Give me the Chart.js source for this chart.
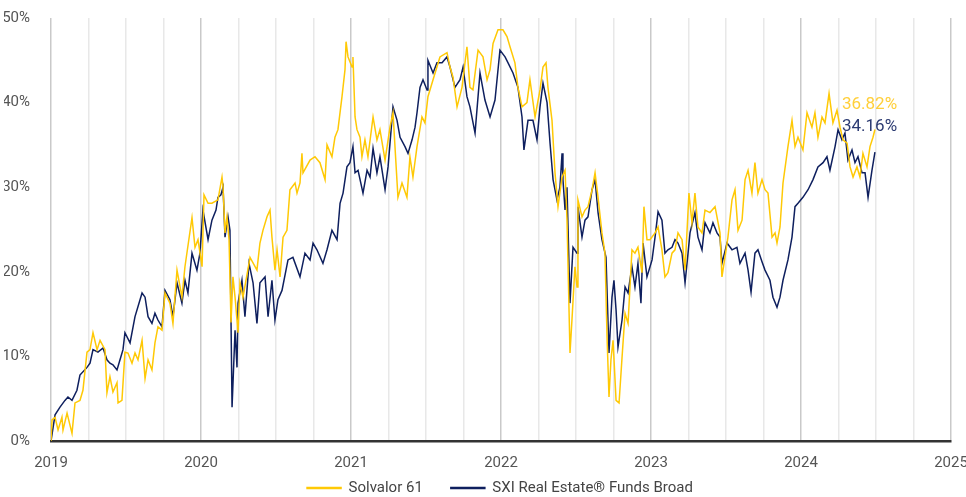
<!DOCTYPE html>
<html>
<head>
<meta charset="utf-8">
<script src="https://cdn.jsdelivr.net/npm/chart.js@4.4.1/dist/chart.umd.min.js"></script>
<style>
  html, body { margin: 0; padding: 0; background: #fff; }
  #wrap { width: 966px; height: 497px; }
</style>
</head>
<body>
<div id="wrap"><canvas id="chart"></canvas></div>
<script>
// series names
const seriesNames = ['Solvalor 61', 'SXI Real Estate\u00AE Funds Broad'];

// year ticks shown on the x axis
const yearTicks = [2019, 2020, 2021, 2022, 2023, 2024, 2025];

// Solvalor 61 - decimal years and cumulative performance in %
const solvalorDates = [
  2019.000, 2019.007, 2019.027, 2019.047, 2019.073, 2019.080, 2019.107, 2019.140, 2019.160, 2019.193,
  2019.213, 2019.240, 2019.260, 2019.280, 2019.307, 2019.327, 2019.360, 2019.373, 2019.393, 2019.413,
  2019.440, 2019.447, 2019.473, 2019.493, 2019.513, 2019.540, 2019.560, 2019.580, 2019.607, 2019.627,
  2019.647, 2019.673, 2019.693, 2019.713, 2019.740, 2019.760, 2019.793, 2019.813, 2019.840, 2019.873,
  2019.893, 2019.940, 2019.960, 2019.980, 2020.007, 2020.020, 2020.047, 2020.073, 2020.113, 2020.140,
  2020.147, 2020.160, 2020.173, 2020.187, 2020.200, 2020.213, 2020.227, 2020.247, 2020.260, 2020.280,
  2020.327, 2020.373, 2020.393, 2020.413, 2020.440, 2020.460, 2020.473, 2020.493, 2020.507, 2020.527,
  2020.547, 2020.573, 2020.593, 2020.627, 2020.640, 2020.660, 2020.673, 2020.680, 2020.727, 2020.760,
  2020.793, 2020.827, 2020.840, 2020.873, 2020.893, 2020.913, 2020.940, 2020.960, 2020.967, 2020.980,
  2021.007, 2021.013, 2021.027, 2021.040, 2021.060, 2021.073, 2021.093, 2021.113, 2021.147, 2021.173,
  2021.193, 2021.227, 2021.260, 2021.280, 2021.313, 2021.340, 2021.373, 2021.393, 2021.413, 2021.440,
  2021.473, 2021.493, 2021.513, 2021.547, 2021.593, 2021.640, 2021.660, 2021.680, 2021.707, 2021.740,
  2021.773, 2021.793, 2021.813, 2021.847, 2021.880, 2021.907, 2021.927, 2021.947, 2021.980, 2022.013,
  2022.040, 2022.060, 2022.093, 2022.113, 2022.140, 2022.173, 2022.193, 2022.227, 2022.260, 2022.280,
  2022.300, 2022.313, 2022.340, 2022.360, 2022.380, 2022.407, 2022.427, 2022.440, 2022.460, 2022.473,
  2022.493, 2022.507, 2022.513, 2022.540, 2022.560, 2022.580, 2022.607, 2022.627, 2022.647, 2022.673,
  2022.693, 2022.707, 2022.720, 2022.733, 2022.747, 2022.767, 2022.787, 2022.807, 2022.827, 2022.847,
  2022.873, 2022.893, 2022.913, 2022.940, 2022.953, 2022.973, 2022.993, 2023.027, 2023.047, 2023.073,
  2023.093, 2023.113, 2023.140, 2023.160, 2023.180, 2023.207, 2023.227, 2023.253, 2023.273, 2023.293,
  2023.313, 2023.340, 2023.360, 2023.393, 2023.427, 2023.460, 2023.473, 2023.493, 2023.513, 2023.540,
  2023.560, 2023.580, 2023.607, 2023.627, 2023.647, 2023.673, 2023.693, 2023.713, 2023.740, 2023.760,
  2023.780, 2023.807, 2023.827, 2023.840, 2023.860, 2023.880, 2023.913, 2023.940, 2023.960, 2023.980,
  2024.013, 2024.040, 2024.073, 2024.093, 2024.113, 2024.140, 2024.160, 2024.187, 2024.213, 2024.240,
  2024.260, 2024.280, 2024.307, 2024.327, 2024.347, 2024.373, 2024.393, 2024.413, 2024.440, 2024.460,
  2024.480, 2024.493
];
const solvalorValues = [
  0, 2.5, 2.8, 1.3, 2.8, 1.3, 3.3, 0.9, 4.5, 4.8,
  6.0, 10.5, 10.8, 12.8, 10.8, 11.9, 10.8, 5.7, 7.6, 5.8,
  6.9, 4.5, 4.8, 10.5, 10.4, 9.2, 10.4, 9.6, 11.9, 7.4,
  9.6, 8.4, 11.6, 13.5, 13.1, 17.5, 16.3, 13.9, 20.2, 17.0,
  20.6, 26.4, 22.9, 23.8, 20.6, 29.1, 28.1, 28.1, 28.5, 31.2,
  30.0, 24.6, 26.5, 23.8, 14.0, 19.4, 17.0, 12.8, 18.7, 17.0,
  21.7, 20.2, 23.4, 24.9, 26.5, 27.3, 24.1, 20.2, 22.6, 19.4,
  24.1, 24.9, 29.7, 30.5, 29.3, 30.5, 34.0, 31.7, 33.2, 33.6,
  32.9, 30.9, 35.0, 33.6, 35.9, 36.8, 40.7, 43.9, 47.2, 45.4,
  44.2, 45.4, 38.3, 36.8, 35.9, 33.6, 35.6, 33.6, 38.3, 35.6,
  36.8, 33.2, 37.1, 38.8, 28.8, 30.5, 28.8, 33.6, 31.2, 34.8,
  38.3, 37.6, 40.7, 42.7, 45.4, 45.9, 44.2, 43.0, 39.5, 41.8,
  46.6, 41.8, 41.5, 46.2, 45.4, 42.7, 43.9, 47.0, 48.6, 48.6,
  47.8, 46.6, 44.7, 41.8, 39.5, 40.0, 42.7, 38.3, 41.5, 44.2,
  44.7, 41.8, 37.9, 31.7, 27.7, 31.2, 32.0, 26.1, 10.4, 14.3,
  20.6, 18.2, 28.5, 26.5, 27.3, 27.7, 29.7, 31.7, 28.8, 24.6,
  22.2, 12.3, 5.2, 9.6, 11.9, 4.8, 4.5, 9.9, 15.1, 13.9,
  22.6, 22.2, 22.9, 19.9, 27.7, 23.8, 23.8, 24.6, 25.3, 22.6,
  19.4, 19.9, 22.2, 22.6, 24.6, 23.8, 20.2, 29.3, 25.8, 29.3,
  25.3, 24.6, 27.3, 27.0, 27.7, 24.6, 19.4, 21.7, 24.1, 28.5,
  29.7, 24.9, 26.1, 30.9, 32.0, 29.3, 32.9, 29.3, 30.9, 29.7,
  29.3, 24.1, 24.6, 23.4, 25.3, 30.5, 34.8, 37.9, 34.8, 35.9,
  34.4, 38.8, 37.1, 38.8, 35.9, 38.3, 37.6, 41.1, 37.6, 39.1,
  37.1, 35.6, 35.2, 32.4, 31.2, 32.4, 31.2, 34.0, 32.4, 34.8,
  35.9, 36.82
];

// SXI Real Estate Funds Broad - decimal years and cumulative performance in %
const sxiDates = [
  2019.000, 2019.027, 2019.060, 2019.093, 2019.113, 2019.140, 2019.173, 2019.193, 2019.240, 2019.260,
  2019.280, 2019.313, 2019.347, 2019.373, 2019.393, 2019.413, 2019.440, 2019.460, 2019.480, 2019.493,
  2019.527, 2019.560, 2019.607, 2019.627, 2019.647, 2019.673, 2019.693, 2019.713, 2019.740, 2019.760,
  2019.793, 2019.813, 2019.840, 2019.873, 2019.893, 2019.913, 2019.940, 2019.973, 2019.993, 2020.013,
  2020.047, 2020.073, 2020.100, 2020.113, 2020.133, 2020.147, 2020.160, 2020.180, 2020.193, 2020.207,
  2020.227, 2020.240, 2020.247, 2020.273, 2020.293, 2020.320, 2020.347, 2020.373, 2020.393, 2020.427,
  2020.447, 2020.473, 2020.493, 2020.513, 2020.540, 2020.580, 2020.613, 2020.660, 2020.693, 2020.727,
  2020.747, 2020.773, 2020.813, 2020.840, 2020.873, 2020.907, 2020.927, 2020.947, 2020.973, 2020.993,
  2021.013, 2021.027, 2021.047, 2021.080, 2021.107, 2021.127, 2021.147, 2021.173, 2021.193, 2021.227,
  2021.247, 2021.280, 2021.307, 2021.327, 2021.360, 2021.380, 2021.407, 2021.427, 2021.440, 2021.460,
  2021.480, 2021.507, 2021.513, 2021.547, 2021.573, 2021.607, 2021.640, 2021.660, 2021.693, 2021.727,
  2021.747, 2021.773, 2021.793, 2021.827, 2021.860, 2021.893, 2021.927, 2021.960, 2021.993, 2022.027,
  2022.047, 2022.080, 2022.113, 2022.140, 2022.153, 2022.180, 2022.213, 2022.240, 2022.260, 2022.280,
  2022.307, 2022.327, 2022.347, 2022.373, 2022.393, 2022.407, 2022.413, 2022.427, 2022.440, 2022.460,
  2022.480, 2022.507, 2022.513, 2022.540, 2022.560, 2022.580, 2022.607, 2022.627, 2022.647, 2022.673,
  2022.700, 2022.720, 2022.740, 2022.753, 2022.767, 2022.780, 2022.807, 2022.827, 2022.847, 2022.873,
  2022.893, 2022.913, 2022.933, 2022.947, 2022.973, 2023.007, 2023.027, 2023.047, 2023.073, 2023.093,
  2023.113, 2023.140, 2023.160, 2023.180, 2023.207, 2023.227, 2023.247, 2023.260, 2023.293, 2023.313,
  2023.340, 2023.360, 2023.393, 2023.413, 2023.440, 2023.460, 2023.473, 2023.507, 2023.540, 2023.573,
  2023.593, 2023.627, 2023.647, 2023.667, 2023.693, 2023.713, 2023.740, 2023.760, 2023.793, 2023.813,
  2023.840, 2023.860, 2023.880, 2023.913, 2023.940, 2023.960, 2023.980, 2024.013, 2024.047, 2024.080,
  2024.113, 2024.147, 2024.173, 2024.193, 2024.227, 2024.247, 2024.273, 2024.293, 2024.313, 2024.340,
  2024.360, 2024.380, 2024.407, 2024.427, 2024.447, 2024.473, 2024.493
];
const sxiValues = [
  0, 3.1, 4.0, 4.8, 5.2, 4.8, 6.0, 7.8, 8.7, 9.2,
  10.8, 10.5, 11.0, 9.6, 9.2, 9.0, 8.4, 9.6, 10.8, 12.8,
  11.6, 14.7, 17.5, 17.0, 14.7, 13.9, 15.1, 14.3, 13.5, 17.8,
  16.7, 14.7, 18.7, 16.3, 19.0, 17.5, 22.2, 20.2, 22.2, 27.3,
  23.8, 26.1, 27.3, 28.8, 29.1, 30.0, 24.1, 26.5, 24.9, 4.0,
  13.1, 8.7, 16.3, 19.0, 14.7, 21.0, 18.7, 13.9, 18.7, 19.4,
  14.7, 19.0, 14.3, 16.7, 17.8, 21.4, 21.7, 19.4, 22.2, 21.4,
  23.4, 22.6, 21.0, 22.6, 24.9, 23.8, 28.1, 29.3, 32.4, 32.9,
  34.8, 31.7, 32.0, 29.3, 32.0, 31.2, 34.6, 31.7, 33.6, 29.7,
  32.4, 39.5, 37.9, 35.9, 34.8, 34.0, 35.6, 37.1, 38.8, 41.8,
  42.7, 41.5, 45.0, 43.5, 44.7, 44.7, 45.4, 44.2, 41.8, 42.7,
  44.2, 40.7, 39.5, 36.4, 43.5, 40.3, 38.3, 40.3, 46.2, 45.4,
  44.7, 43.5, 41.8, 38.3, 34.4, 37.9, 37.9, 35.6, 39.5, 42.3,
  40.0, 35.2, 30.9, 28.5, 30.0, 34.0, 30.9, 27.3, 30.0, 16.3,
  22.9, 22.2, 27.7, 24.1, 26.1, 26.5, 29.7, 30.9, 27.0, 23.8,
  21.7, 10.4, 17.0, 19.0, 15.5, 11.1, 14.3, 18.2, 17.5, 20.6,
  18.2, 21.0, 16.3, 23.4, 19.4, 21.4, 24.1, 27.1, 26.1, 22.2,
  22.6, 22.9, 23.8, 23.4, 22.2, 18.7, 22.2, 24.6, 27.0, 24.1,
  22.6, 25.8, 24.6, 25.8, 24.6, 24.1, 21.0, 23.4, 22.6, 22.9,
  21.0, 22.2, 20.2, 17.6, 22.2, 22.6, 21.2, 20.2, 19.0, 17.0,
  15.8, 17.0, 19.0, 21.4, 24.1, 27.7, 28.1, 28.8, 29.7, 30.9,
  32.4, 32.9, 33.6, 32.0, 34.8, 36.8, 35.6, 36.4, 33.2, 34.4,
  32.9, 33.6, 31.7, 31.7, 28.8, 32.0, 34.16
];

const yellow = '#FFC905';
const navy = '#0E1F5E';
const fontFamily = 'Roboto, "DejaVu Sans", sans-serif';

function toPoints(dates, values) {
  return dates.map((d, i) => ({ x: d, y: values[i] }));
}

// last value label above the end of each line
const endLabels = {
  id: 'endLabels',
  afterDatasetsDraw(chart) {
    const ctx = chart.ctx;
    const colors = ['#FFCF3A', '#2C3B72'];
    ctx.save();
    ctx.font = '17px ' + fontFamily;
    ctx.textAlign = 'left';
    ctx.textBaseline = 'middle';
    chart.data.datasets.forEach((ds, i) => {
      const meta = chart.getDatasetMeta(i);
      const last = meta.data[meta.data.length - 1];
      const val = ds.data[ds.data.length - 1].y;
      ctx.fillStyle = colors[i];
      ctx.fillText(val.toFixed(2) + '%', last.x - 33, last.y - 25);
    });
    ctx.restore();
  }
};

// centre the legend under the plot area, on the bottom line
const legendPlace = {
  id: 'legendPlace',
  afterLayout(chart) {
    const lg = chart.legend;
    if (!lg) return;
    const pad = lg.options.labels.padding;
    lg.left = chart.chartArea.left - 2;
    lg.right = chart.chartArea.right;
    lg.top = 488 - 7.5 - pad;
  }
};

new Chart(document.getElementById('chart'), {
  type: 'line',
  data: {
    datasets: [
      {
        label: seriesNames[0],
        data: toPoints(solvalorDates, solvalorValues),
        borderColor: yellow,
        backgroundColor: yellow,
        borderWidth: 1.5,
        pointRadius: 0,
        tension: 0
      },
      {
        label: seriesNames[1],
        data: toPoints(sxiDates, sxiValues),
        borderColor: navy,
        backgroundColor: navy,
        borderWidth: 1.5,
        pointRadius: 0,
        tension: 0
      }
    ]
  },
  options: {
    responsive: true,
    maintainAspectRatio: false,
    animation: false,
    layout: { padding: { left: 4, right: 15, top: 18, bottom: 0 } },
    scales: {
      x: {
        type: 'linear',
        min: yearTicks[0],
        max: yearTicks[yearTicks.length - 1],
        afterFit(scale) {
          scale.height = 34;
          scale.paddingLeft = 0;
          scale.paddingRight = 0;
        },
        ticks: {
          stepSize: 0.25,
          autoSkip: false,
          maxRotation: 0,
          padding: 13,
          color: '#555',
          font: { family: fontFamily, size: 15 },
          callback: v => yearTicks.includes(v) ? String(v) : ''
        },
        grid: {
          drawTicks: false,
          lineWidth: 1.5,
          color: c => (c.tick && Number.isInteger(c.tick.value)) ? '#c9c9c9' : '#e8e8e8'
        },
        border: { display: true, color: '#333', width: 2.5 }
      },
      y: {
        min: 0,
        max: 50,
        afterFit(scale) {
          scale.width = 47;
          scale.paddingTop = 0;
          scale.paddingBottom = 0;
        },
        ticks: {
          stepSize: 10,
          padding: 13,
          color: '#555',
          font: { family: fontFamily, size: 15 },
          callback: v => v + '%'
        },
        grid: { display: false },
        border: { display: false }
      }
    },
    plugins: {
      legend: {
        position: 'bottom',
        maxHeight: 22,
        labels: {
          boxWidth: 34,
          boxHeight: 1,
          padding: 28,
          color: '#444',
          font: { family: fontFamily, size: 15 }
        }
      },
      tooltip: { enabled: false }
    }
  },
  plugins: [endLabels, legendPlace]
});
</script>
</body>
</html>
